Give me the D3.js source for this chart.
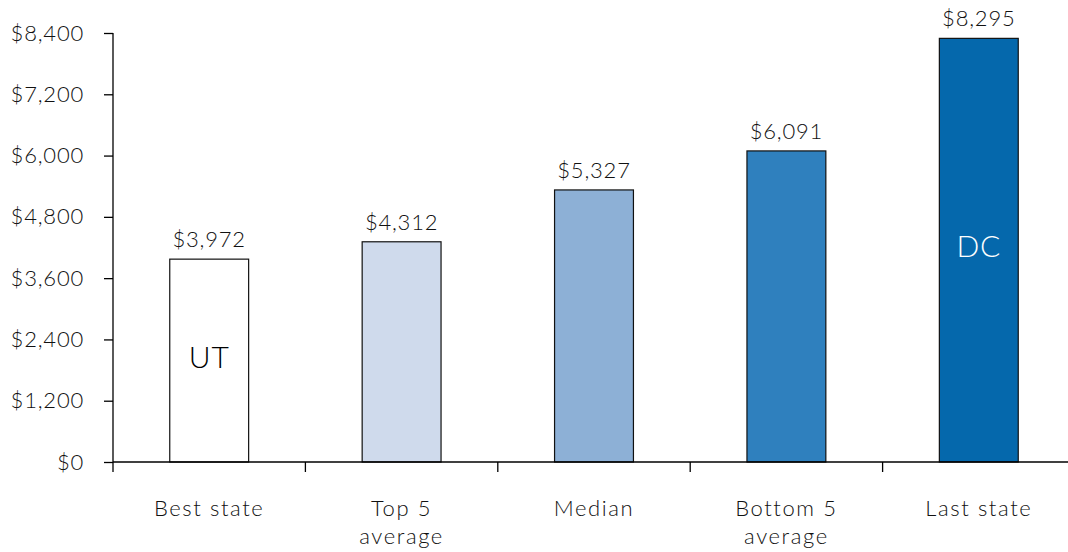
<!DOCTYPE html>
<html>
<head>
<meta charset="utf-8">
<script src="https://cdn.jsdelivr.net/npm/d3@7"></script>
<style>
  html, body { margin: 0; padding: 0; background: #fff; }
  svg text { font-family: Lato, "Open Sans", sans-serif; font-weight: 300; letter-spacing: 0.8px; fill: #111; }
</style>
</head>
<body>
<svg id="chart" width="1068" height="552"></svg>
<script>
// Spending per category, with the state name shown inside the extreme bars
const categories = [["Best state"], ["Top 5", "average"], ["Median"], ["Bottom 5", "average"], ["Last state"]];
const values = [3972, 4312, 5327, 6091, 8295];
const barColors = ["#ffffff", "#cfdaec", "#8db0d6", "#2f80be", "#0568ac"];
const innerLabels = ["UT", "", "", "", "DC"];
const innerLabelColors = ["#000000", "#ffffff", "#ffffff", "#ffffff", "#ffffff"];
const yTicks = [0, 1200, 2400, 3600, 4800, 6000, 7200, 8400];

const svg = d3.select("#chart");
const plotLeft = 113, plotRight = 1075, plotTop = 33, plotBottom = 462;

const x = d3.scaleBand()
  .domain(d3.range(categories.length))
  .range([plotLeft, plotRight])
  .paddingInner(0.59)
  .paddingOuter(0.295);

const y = d3.scaleLinear().domain([0, 8400]).range([plotBottom, plotTop]);

const fmt = v => "$" + d3.format(",")(v);

// Y axis
const yAxis = svg.append("g")
  .attr("transform", `translate(${plotLeft},0)`)
  .call(d3.axisLeft(y).tickValues(yTicks).tickFormat(fmt).tickSize(9).tickPadding(20));
yAxis.selectAll("path, line").attr("stroke", "#000").attr("stroke-width", 1.3);
yAxis.select(".domain").attr("d", `M0,${plotTop}V${plotBottom}`);
yAxis.selectAll("text").attr("font-size", 22).attr("font-family", null).style("fill", "#111");

// Bars
svg.append("g").selectAll("rect")
  .data(values)
  .join("rect")
  .attr("x", (d, i) => x(i))
  .attr("width", x.bandwidth())
  .attr("y", d => y(d))
  .attr("height", d => y(0) - y(d))
  .attr("fill", (d, i) => barColors[i])
  .attr("stroke", "#111")
  .attr("stroke-width", 1.2);

// X axis with ticks between the categories
const xAxis = svg.append("g");
xAxis.append("line")
  .attr("x1", plotLeft).attr("x2", plotRight)
  .attr("y1", plotBottom).attr("y2", plotBottom)
  .attr("stroke", "#000").attr("stroke-width", 1.3);
const step = x.step();
xAxis.selectAll("line.tick")
  .data(d3.range(categories.length + 1))
  .join("line")
  .attr("class", "tick")
  .attr("x1", i => plotLeft + i * step).attr("x2", i => plotLeft + i * step)
  .attr("y1", plotBottom).attr("y2", plotBottom + 10)
  .attr("stroke", "#000").attr("stroke-width", 1.3);

// Category labels
const catText = svg.append("g").selectAll("text")
  .data(categories)
  .join("text")
  .attr("text-anchor", "middle")
  .attr("font-size", 22)
  .style("letter-spacing", "1.6px")
  .attr("x", (d, i) => x(i) + x.bandwidth() / 2)
  .attr("y", 516);
catText.selectAll("tspan")
  .data(d => d)
  .join("tspan")
  .attr("x", function() { return this.parentNode.getAttribute("x"); })
  .attr("dy", (d, i) => i === 0 ? 0 : 28)
  .text(d => d);

// Value labels above bars
svg.append("g").selectAll("text")
  .data(values)
  .join("text")
  .attr("text-anchor", "middle")
  .attr("font-size", 22)
  .attr("x", (d, i) => x(i) + x.bandwidth() / 2)
  .attr("y", d => y(d) - 12)
  .text(fmt);

// State labels inside bars
svg.append("g").selectAll("text")
  .data(values)
  .join("text")
  .attr("text-anchor", "middle")
  .attr("dominant-baseline", "central")
  .attr("font-size", 30)
  .attr("x", (d, i) => x(i) + x.bandwidth() / 2)
  .attr("y", d => (y(d) + y(0)) / 2 - 5)
  .style("fill", (d, i) => innerLabelColors[i])
  .text((d, i) => innerLabels[i]);
</script>
</body>
</html>
